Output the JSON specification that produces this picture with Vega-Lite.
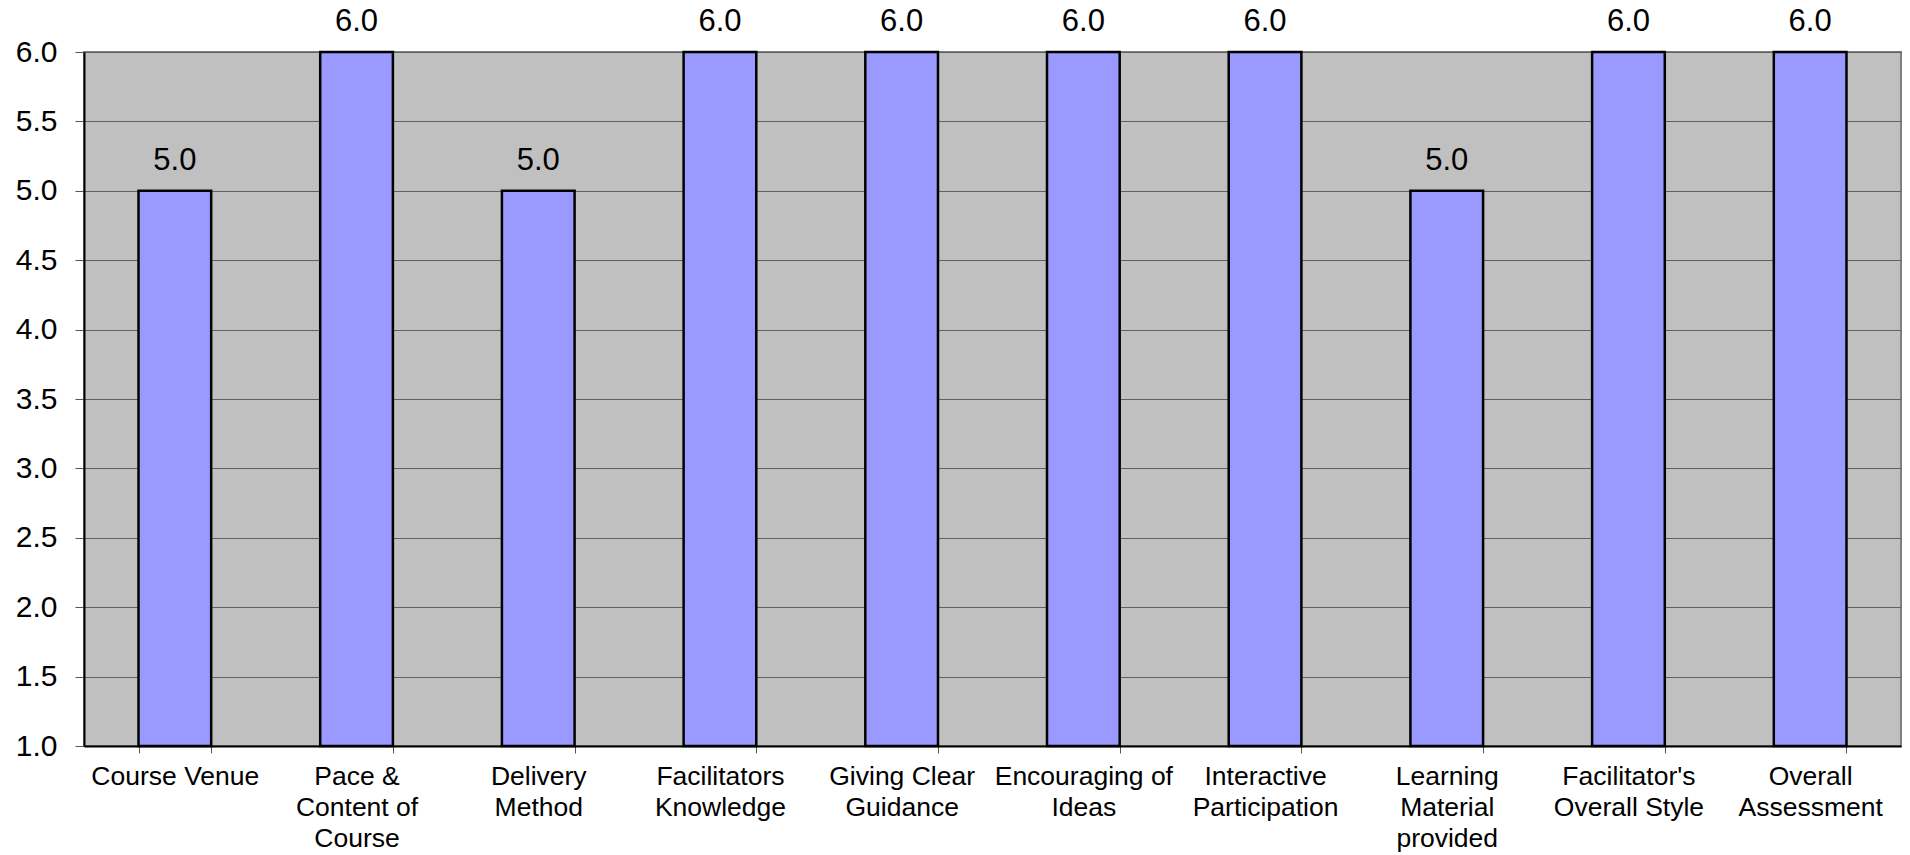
{
  "$schema": "https://vega.github.io/schema/vega-lite/v6.json",
  "width": 1817,
  "height": 694,
  "autosize": "none",
  "padding": {"left": 84, "top": 52, "right": 9, "bottom": 109},
  "background": "white",
  "config": {
    "font": "Liberation Sans",
    "view": {"fill": "#C0C0C0", "stroke": "#808080", "strokeWidth": 2}
  },
  "data": {
    "values": [
      {"item": "Course Venue", "score": 5.0},
      {"item": "Pace & Content of Course", "score": 6.0},
      {"item": "Delivery Method", "score": 5.0},
      {"item": "Facilitators Knowledge", "score": 6.0},
      {"item": "Giving Clear Guidance", "score": 6.0},
      {"item": "Encouraging of Ideas", "score": 6.0},
      {"item": "Interactive Participation", "score": 6.0},
      {"item": "Learning Material provided", "score": 5.0},
      {"item": "Facilitator's Overall Style", "score": 6.0},
      {"item": "Overall Assessment", "score": 6.0}
    ]
  },
  "encoding": {
    "x": {
      "field": "item",
      "type": "nominal",
      "sort": null,
      "scale": {"paddingInner": 0.6, "paddingOuter": 0.3},
      "axis": {
        "title": null,
        "labelAngle": 0,
        "labelFontSize": 26.5,
        "labelColor": "black",
        "labelLineHeight": 31,
        "labelPadding": 10,
        "labelBaseline": "top",
        "tickBand": "extent",
        "tickSize": 7,
        "tickColor": "#555555",
        "domainColor": "black",
        "domainWidth": 2,
        "labelLimit": 0,
        "labelExpr": "{'Course Venue': ['Course Venue'], 'Pace & Content of Course': ['Pace &', 'Content of', 'Course'], 'Delivery Method': ['Delivery', 'Method'], 'Facilitators Knowledge': ['Facilitators', 'Knowledge'], 'Giving Clear Guidance': ['Giving Clear', 'Guidance'], 'Encouraging of Ideas': ['Encouraging of', 'Ideas'], 'Interactive Participation': ['Interactive', 'Participation'], 'Learning Material provided': ['Learning', 'Material', 'provided'], \"Facilitator's Overall Style\": [\"Facilitator's\", 'Overall Style'], 'Overall Assessment': ['Overall', 'Assessment']}[datum.value]"
      }
    }
  },
  "layer": [
    {
      "mark": {"type": "bar", "fill": "#9999FF", "stroke": "black", "strokeWidth": 2.5},
      "encoding": {
        "y": {
          "field": "score",
          "type": "quantitative",
          "scale": {"domain": [1, 6], "nice": false, "zero": false},
          "axis": {
            "title": null,
            "values": [1, 1.5, 2, 2.5, 3, 3.5, 4, 4.5, 5, 5.5, 6],
            "format": ".1f",
            "labelFontSize": 30,
            "labelColor": "black",
            "labelPadding": 18,
            "tickSize": 9,
            "tickColor": "#555555",
            "domainColor": "black",
            "domainWidth": 2,
            "grid": true,
            "gridColor": "#606060",
            "gridWidth": 1
          }
        },
        "y2": {"datum": 1}
      }
    },
    {
      "mark": {"type": "text", "baseline": "bottom", "dy": -14, "fontSize": 31, "color": "black"},
      "encoding": {
        "y": {"field": "score", "type": "quantitative"},
        "text": {"field": "score", "type": "quantitative", "format": ".1f"}
      }
    }
  ]
}
